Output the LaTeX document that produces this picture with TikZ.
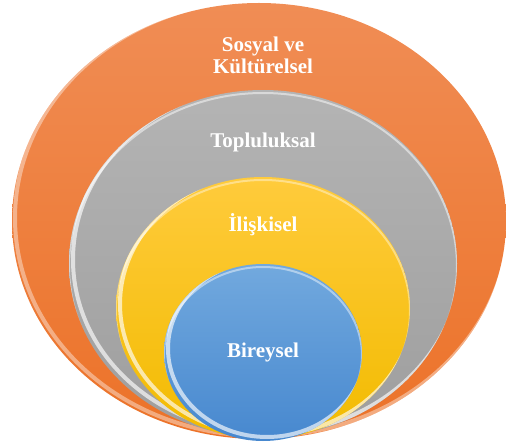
\documentclass[tikz,border=0pt]{standalone}
\usepackage{fontspec}
\setmainfont{Liberation Serif}
\usetikzlibrary{shapes.geometric}
\definecolor{orTop}{HTML}{F08D55}
\definecolor{orBot}{HTML}{EC7228}
\definecolor{grTop}{HTML}{B4B4B4}
\definecolor{grBot}{HTML}{9E9E9E}
\definecolor{yeTop}{HTML}{FFCB3C}
\definecolor{yeBot}{HTML}{F2BB00}
\definecolor{blTop}{HTML}{72A9DE}
\definecolor{blBot}{HTML}{4788CF}
\begin{document}
\begin{tikzpicture}[x=1pt,y=1pt,
  ring/.style={ellipse, inner sep=0pt, draw=none},
  rim/.style={white, line width=4pt, opacity=0.65},
  lbl/.style={text=white, font=\fontsize{21}{22}\selectfont\bfseries, align=center}]
\useasboundingbox (0,0) rectangle (506,445);

% outer ring: social and cultural
\node[ring, minimum width=494pt, minimum height=436pt,
      top color=orTop, bottom color=orBot] (social) at (259,224) {};
\begin{scope}
  \clip (259,224) ellipse [x radius=247, y radius=218];
  \draw[rim, opacity=0.4] (262,227) ellipse [x radius=247, y radius=218];
\end{scope}

% community ring
\node[ring, minimum width=388pt, minimum height=347pt,
      top color=grTop, bottom color=grBot] (community) at (263,181.5) {};
\begin{scope}
  \clip (263,181.5) ellipse [x radius=194, y radius=173.5];
  \draw[rim] (267,185.5) ellipse [x radius=194, y radius=173.5];
  \draw[white, line width=2pt, opacity=0.5] (263,178.5) ellipse [x radius=194, y radius=173.5];
\end{scope}

% relational ring
\node[ring, minimum width=294pt, minimum height=262pt,
      top color=yeTop, bottom color=yeBot] (relational) at (263,137) {};
\begin{scope}
  \clip (263,137) ellipse [x radius=147, y radius=131];
  \draw[rim] (267,141) ellipse [x radius=147, y radius=131];
  \draw[white, line width=2pt, opacity=0.4] (263,134) ellipse [x radius=147, y radius=131];
\end{scope}

% individual core
\node[ring, minimum width=198pt, minimum height=177pt,
      top color=blTop, bottom color=blBot] (individual) at (263,92.5) {};
\begin{scope}
  \clip (263,92.5) ellipse [x radius=99, y radius=88.5];
  \draw[rim] (267,96.5) ellipse [x radius=99, y radius=88.5];
  \draw[white, line width=2pt, opacity=0.45] (263,89.5) ellipse [x radius=99, y radius=88.5];
\end{scope}

% labels
\node[lbl] (socialText) at (263,389.5) {Sosyal ve\\Kültürelsel};
\node[lbl] (communityText) at (263,303) {Topluluksal};
\node[lbl] (relationalText) at (263,220) {İlişkisel};
\node[lbl] (individualText) at (263,93) {Bireysel};
\end{tikzpicture}
\end{document}
